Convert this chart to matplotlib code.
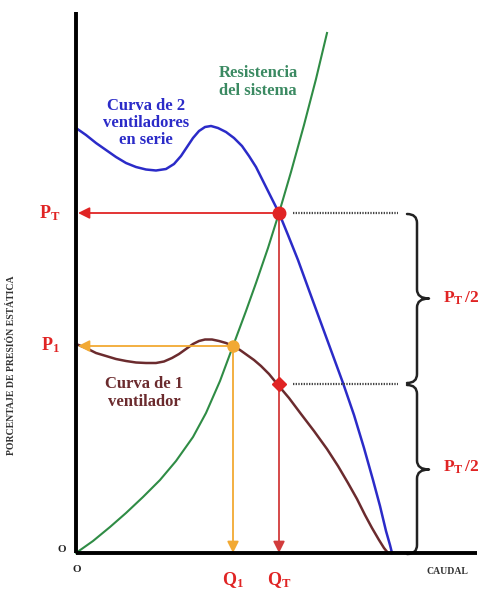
import matplotlib
matplotlib.use("Agg")
import matplotlib.pyplot as plt
from matplotlib.path import Path
from matplotlib.patches import PathPatch

plt.rcParams['mathtext.fontset'] = 'custom'
plt.rcParams['mathtext.rm'] = 'Liberation Serif:bold'
plt.rcParams['mathtext.it'] = 'Liberation Serif:bold'
plt.rcParams['mathtext.bf'] = 'Liberation Serif:bold'

# ---- data (caudal, presión) ----
serie_q = [0, 10, 20, 30, 40, 50, 60, 70, 80, 90, 98, 105, 111, 117, 123, 129, 135, 142,
           150, 158, 166, 173, 180, 187, 194, 203, 212, 222, 234, 245, 256, 267, 278,
           288, 297, 304, 310, 314, 316]
serie_p = [425, 418, 410, 403, 396, 390, 386, 383.5, 382.5, 384, 389, 397, 406, 415, 422,
           426, 427, 425, 421, 415, 407, 397, 386, 372, 358, 340, 318, 293, 260, 230, 200,
           170, 138, 105, 73, 47, 22, 8, 0]

uno_q = [0, 10, 20, 30, 40, 50, 60, 70, 80, 88, 96, 103, 110, 117, 123, 129, 136, 143,
         150, 157, 164, 171, 178, 185, 193, 202, 213, 225, 238, 251, 262, 272, 281, 289,
         296, 303, 308, 312]
uno_p = [209, 205, 200, 197, 194, 192, 190.5, 190, 190, 191.5, 195, 199, 204, 209, 212,
         213.5, 213.5, 212, 210, 207, 203, 198, 193, 187, 179, 168, 155, 139, 122, 104,
         87, 70, 54, 38, 25, 13, 5, 0]

sist_q = [0, 17, 34, 50, 67, 84, 100, 117, 130, 144, 157, 170, 180, 192, 203, 215, 228, 240, 251]
sist_p = [0, 12, 26, 40, 56, 73, 92, 116, 140, 172, 207, 242, 270, 305, 340, 381, 428, 474, 520]

Q1, P1 = 157, 207
QT, PT = 203, 340
PT_half = 169

BLUE = '#2b2bc8'
BROWN = '#6b2b2e'
GREEN = '#2f8c45'
RED = '#e02424'
ORANGE = '#f2a933'

fig = plt.figure(figsize=(4.79, 5.94), dpi=100)
ax = fig.add_axes([0, 0, 1, 1])
ax.set_xlim(-76, 403)
ax.set_ylim(-41, 553)
ax.axis('off')

# axes
ax.plot([0, 0], [0, 541], color='black', lw=2.8, solid_capstyle='butt', zorder=5)
ax.plot([0, 401], [0, 0], color='black', lw=2.8, solid_capstyle='butt', zorder=5)

# curves
ax.plot(sist_q, sist_p, color=GREEN, lw=1.5, solid_joinstyle='round', zorder=3)
ax.plot(serie_q, serie_p, color=BLUE, lw=1.8, solid_joinstyle='round', zorder=3)
ax.plot(uno_q, uno_p, color=BROWN, lw=1.8, solid_joinstyle='round', zorder=3)

# guide arrows
def arrow(x0, y0, x1, y1, color, lw=1.3):
    ax.annotate('', xy=(x1, y1), xytext=(x0, y0),
                arrowprops=dict(arrowstyle='-|>', color=color, lw=lw,
                                mutation_scale=17, shrinkA=0, shrinkB=0),
                zorder=4)

arrow(QT, PT, 2, PT, RED)
arrow(QT, PT, QT, 0, '#d23c3c')
arrow(Q1, P1, 2, P1, ORANGE)
arrow(Q1, P1, Q1, 0, ORANGE)

# markers
ax.plot([QT], [PT], 'o', color=RED, ms=9, zorder=6)
ax.plot([Q1], [P1], 'o', color=ORANGE, ms=8, zorder=6)
ax.plot([QT], [PT_half], 'D', color=RED, ms=7, zorder=6)

# dotted lines
for yv in (PT, PT_half):
    ax.plot([217, 322], [yv, yv], color='#444444', lw=1.6, ls=(0, (0.6, 0.6)), zorder=3)

# braces
def brace(ytop, ybot, xl=331, xv=341, xt=353):
    ym = (ytop + ybot) / 2
    r = 9
    codes = [Path.MOVETO, Path.CURVE3, Path.CURVE3, Path.LINETO,
             Path.LINETO, Path.CURVE3, Path.CURVE3, Path.LINETO,
             Path.CURVE3, Path.CURVE3, Path.LINETO,
             Path.LINETO, Path.CURVE3, Path.CURVE3, Path.LINETO]
    verts = [(xl, ytop), (xv, ytop), (xv, ytop - r), (xv, ytop - r),
             (xv, ym + r), (xv, ym), (xt, ym), (xt, ym),
             (xv, ym), (xv, ym - r), (xv, ym - r),
             (xv, ybot + r), (xv, ybot), (xl, ybot), (xl, ybot)]
    ax.add_patch(PathPatch(Path(verts, codes), fill=False, color='#222222', lw=1.8,
                           capstyle='round', joinstyle='round', zorder=3))

brace(PT - 1, PT_half + 1)
brace(PT_half - 1, -1)

# texts
serif = 'Liberation Serif'
ax.text(182, 471, 'Resistencia\ndel sistema', color='#3b8a62', fontsize=12,
        fontweight='bold', family=serif, ha='center', va='center', linespacing=1.15)
ax.text(70, 430, 'Curva de 2\nventiladores\nen serie', color=BLUE, fontsize=12,
        fontweight='bold', family=serif, ha='center', va='center', linespacing=1.1)
ax.text(68, 160, 'Curva de 1\nventilador', color=BROWN, fontsize=12,
        fontweight='bold', family=serif, ha='center', va='center', linespacing=1.15)

ax.text(-26, PT, r'$\mathrm{P}_\mathrm{T}$', color=RED, fontsize=13, ha='center', va='center')
ax.text(-26, P1 + 1, r'$\mathrm{P}_\mathrm{1}$', color=RED, fontsize=13, ha='center', va='center')
ax.text(Q1, -27, r'$\mathrm{Q}_\mathrm{1}$', color=RED, fontsize=13, ha='center', va='center')
ax.text(QT, -27, r'$\mathrm{Q}_\mathrm{T}$', color=RED, fontsize=13, ha='center', va='center')
ax.text(385, 255, r'$\mathrm{P}_\mathrm{T}\,\mathrm{/2}$', color=RED, fontsize=12.5, ha='center', va='center')
ax.text(385, 86, r'$\mathrm{P}_\mathrm{T}\,\mathrm{/2}$', color=RED, fontsize=12.5, ha='center', va='center')

ax.text(-14, 4, 'O', color='#222222', fontsize=8, fontweight='bold', family=serif,
        ha='center', va='center')
ax.text(1, -17, 'O', color='#222222', fontsize=8, fontweight='bold', family=serif,
        ha='center', va='center')
ax.text(371, -18, 'CAUDAL', color='#333333', fontsize=7, fontweight='bold', family=serif,
        ha='center', va='center')
ax.text(-64, 188, 'PORCENTAJE DE PRESIÓN ESTÁTICA', color='#333333', fontsize=7,
        fontweight='bold', family=serif, ha='center', va='center', rotation=90)

fig.savefig('out.png', dpi=100)
